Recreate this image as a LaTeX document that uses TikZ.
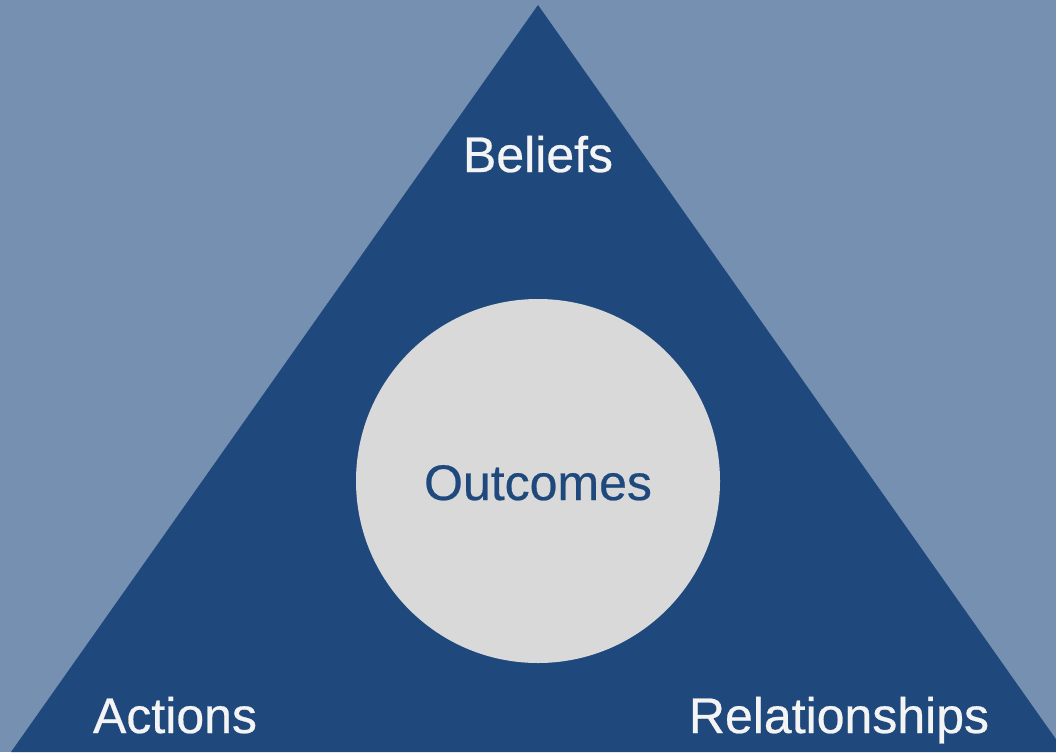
\documentclass[tikz,border=0pt]{standalone}
\usepackage{fontspec}
\setmainfont{Liberation Sans}
\newfontfamily\labfont{Liberation Sans}[FakeBold=0.5]
\definecolor{bgblue}{HTML}{7690B1}
\definecolor{darkblue}{HTML}{1F497D}
\definecolor{lightgray}{HTML}{D9D9D9}
\definecolor{offwhite}{HTML}{F4F4F4}
\begin{document}
\begin{tikzpicture}[x=1pt,y=-1pt,
  label/.style={anchor=base,font=\labfont\fontsize{50}{60}\selectfont,inner sep=0pt,text=offwhite}]
\fill[bgblue] (0,0) rectangle (1056,752);
\useasboundingbox (0,0) rectangle (1056,752);
\coordinate (apex) at (538,5);
\coordinate (bl) at (11,752);
\coordinate (br) at (1065,752);
\fill[darkblue] (apex) -- (bl) -- (br) -- cycle;
\node[circle,fill=lightgray,minimum size=364pt,inner sep=0pt] (outc) at (538,481) {};
\node[label,text=darkblue] (outt) at (538,500) {Outcomes};
\node[label] (bel) at (538,172) {Beliefs};
\node[label] (act) at (175,733) {Actions};
\node[label] (rel) at (839,733) {Relationships};
\end{tikzpicture}
\end{document}
